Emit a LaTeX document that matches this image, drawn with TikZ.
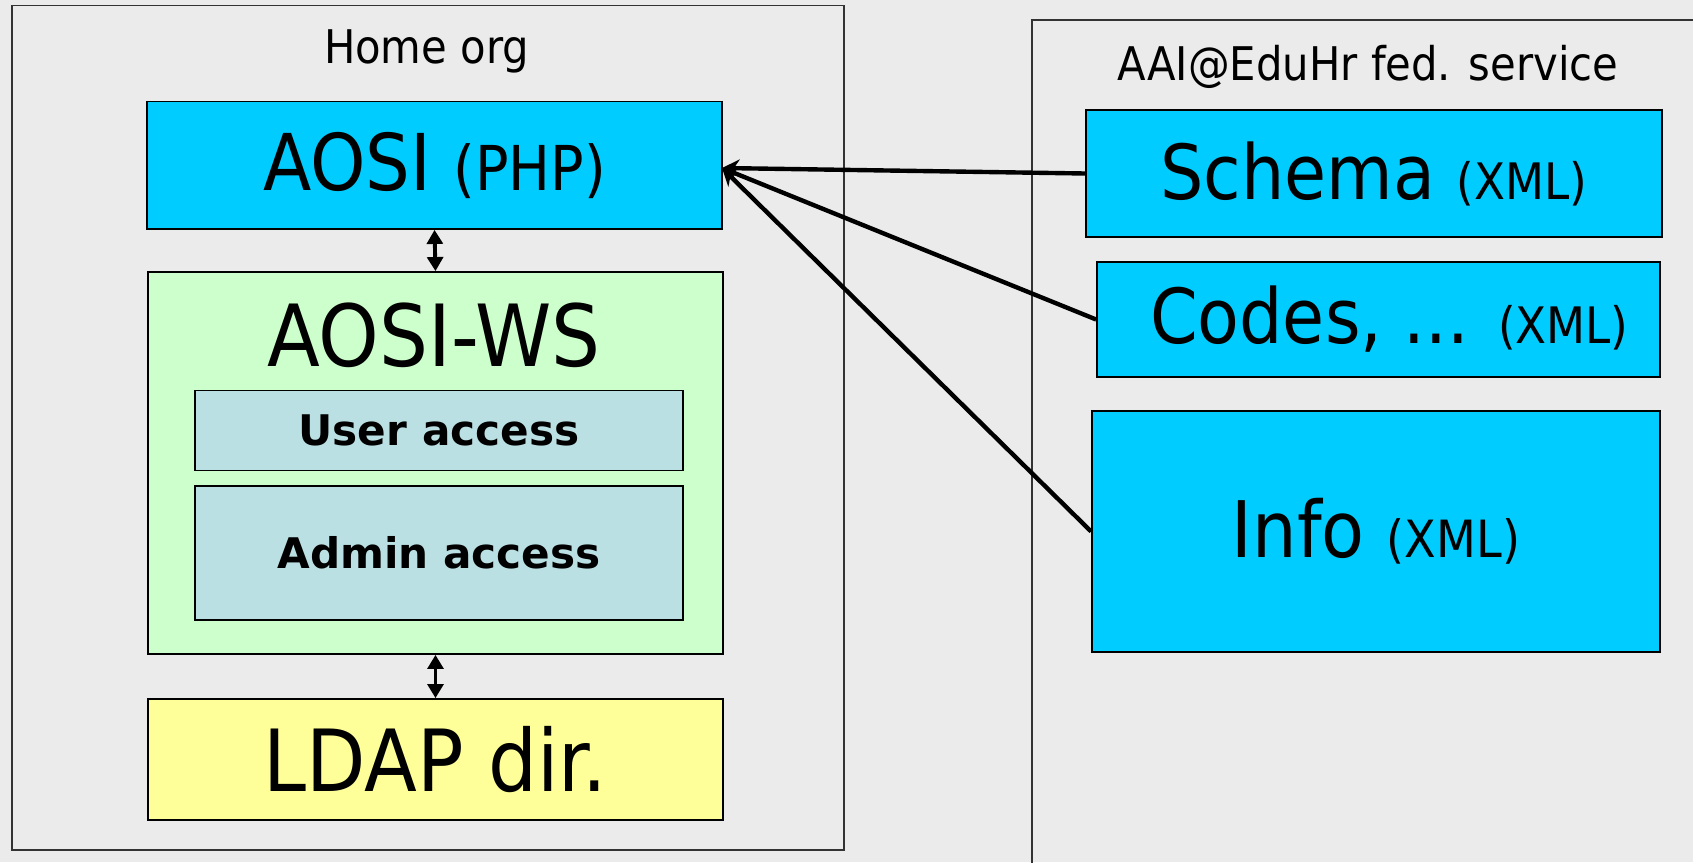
\documentclass[tikz,border=0pt]{standalone}
\usepackage{fontspec}
\setmainfont{DejaVu Sans Condensed}
\newfontfamily\accessfont{DejaVu Sans}
\usetikzlibrary{arrows.meta}

\definecolor{slidebg}{HTML}{EBEBEB}
\definecolor{framegray}{HTML}{333333}
\definecolor{svccyan}{HTML}{00CCFF}
\definecolor{wsgreen}{HTML}{CCFFCC}
\definecolor{accessblue}{HTML}{BBE0E3}
\definecolor{ldapyellow}{HTML}{FFFF99}

\newcommand{\txtsize}[1]{\fontsize{#1}{#1}\selectfont}

\begin{document}
\begin{tikzpicture}[
	frame/.style={draw=framegray, line width=0.45pt},
	box/.style={draw, line width=0.5pt, inner sep=0pt},
	feed/.style={line width=1.25pt, -{Stealth[length=5pt, width=5pt]}},
	link/.style={line width=1.1pt, {Triangle[length=4pt, width=4.5pt]}-{Triangle[length=4pt, width=4.5pt]}}
	]

	\clip (0,0) rectangle (16.93,8.62);
	\fill[slidebg] (0,0) rectangle (16.93,8.62);

	% home organisation
	\begin{scope}
		\draw[frame] (0.12,0.12) rectangle (8.44,8.565);
		\node[anchor=base] (homelbl) at (4.265,7.99) {\txtsize{13.2}Home org};

		\node[box, fill=svccyan, minimum width=5.75cm, minimum height=1.275cm] (aosi) at (4.345,6.9675)
			{\txtsize{22.3}AOSI \txtsize{17.6}(PHP)};

		\node[box, fill=wsgreen, minimum width=5.75cm, minimum height=3.82cm] (ws) at (4.355,3.99) {};
		\node[anchor=base] (wslbl) at (4.34,4.96) {\txtsize{24.4}AOSI-WS};
		\node[box, fill=accessblue, minimum width=4.88cm, minimum height=0.80cm] (user) at (4.39,4.3145)
			{\accessfont\bfseries\txtsize{12}User access};
		\node[box, fill=accessblue, minimum width=4.88cm, minimum height=1.34cm] (admin) at (4.39,3.09)
			{\accessfont\bfseries\txtsize{12}Admin access};

		\node[box, fill=ldapyellow, minimum width=5.75cm, minimum height=1.21cm] (ldap) at (4.355,1.025)
			{\txtsize{24.4}LDAP dir.};

		\draw[link] (aosi.south) -- (ws.north);
		\draw[link] (ws.south) -- (ldap.north);
	\end{scope}

	% federation service
	\begin{scope}
		\draw[frame] (10.32,-0.5) rectangle (17.5,8.42);
		\node[anchor=base] (fedlbl) at (13.68,7.82) {\txtsize{13.2}AAI@EduHr fed. service};

		\node[box, fill=svccyan, minimum width=5.76cm, minimum height=1.27cm] (schema) at (13.74,6.885)
			{\txtsize{21.6}Schema \txtsize{14.3}(XML)};
		\node[box, fill=svccyan, minimum width=5.63cm, minimum height=1.15cm] (codes) at (13.785,5.425)
			{\txtsize{21.6}~Codes, ... \txtsize{14.3}(XML)};
		\node[box, fill=svccyan, minimum width=5.68cm, minimum height=2.41cm] (info) at (13.76,3.305)
			{\txtsize{22.2}Info \txtsize{14.6}(XML)};
	\end{scope}

	\coordinate (hub) at (7.22,6.94);
	\foreach \src in {schema,codes,info}
		\draw[feed] (\src.west) -- (hub);

\end{tikzpicture}
\end{document}
